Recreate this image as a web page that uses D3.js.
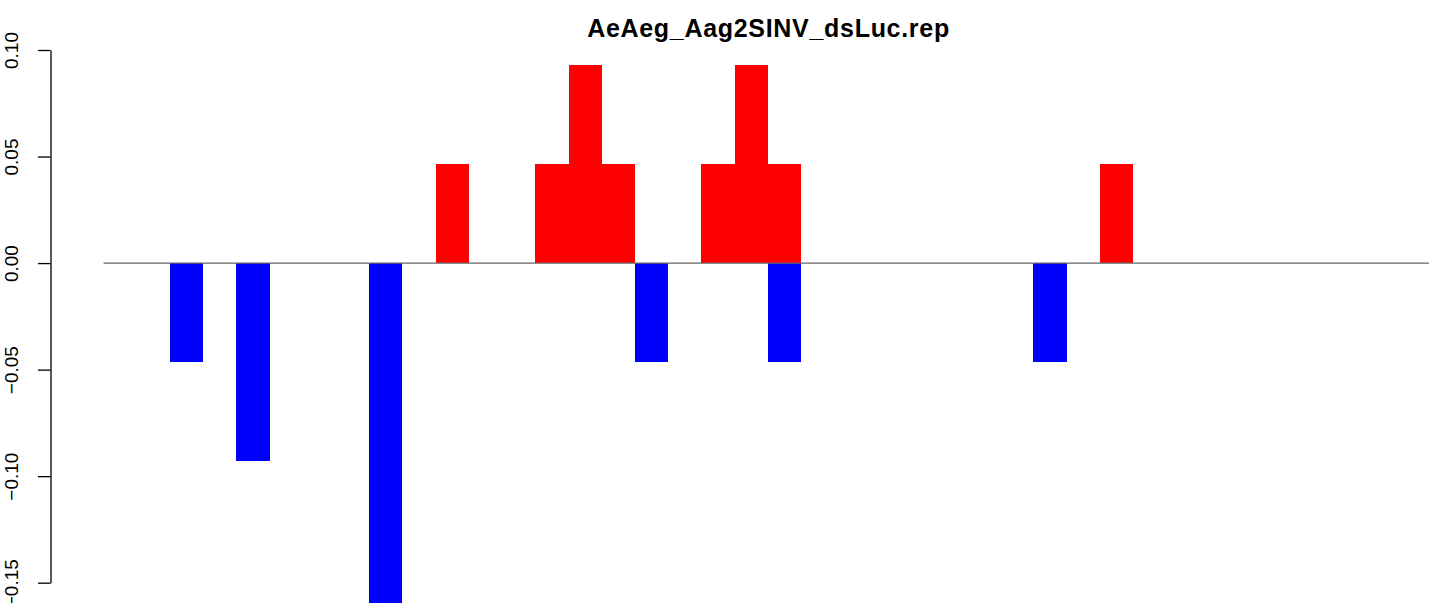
<!DOCTYPE html>
<html>
<head>
<meta charset="utf-8">
<script src="https://cdn.jsdelivr.net/npm/d3@7"></script>
<style>
  html, body { margin: 0; padding: 0; background: #fff; }
  #chart { width: 1429px; height: 603px; overflow: hidden; }
</style>
</head>
<body>
<div id="chart"></div>
<script>
const title = "AeAeg_Aag2SINV_dsLuc.rep";
const yTicks = [-0.15, -0.10, -0.05, 0.00, 0.05, 0.10];
const slotCount = 40;
// bin index -> fraction (positive = red, negative = blue)
const upSlots = [10, 13, 14, 15, 18, 19, 20, 30];
const upValues = [0.0465, 0.0465, 0.093, 0.0465, 0.0465, 0.093, 0.0465, 0.0465];
const downSlots = [2, 4, 8, 16, 20, 28];
const downValues = [-0.0465, -0.093, -0.163, -0.0465, -0.0465, -0.0465];

function draw() {
  const w = 1429, h = 603;

  const svg = d3.select("#chart")
    .append("svg")
    .attr("width", w)
    .attr("height", h)
    .style("font-family", "'Liberation Sans', Arial, Helvetica, sans-serif");

  const x = d3.scaleLinear().domain([0, slotCount]).range([103.6, 103.6 + 33.21 * slotCount]);
  const y = d3.scaleLinear().domain([-0.15, 0.10]).range([582.7, 50]);

  const up = upSlots.map((s, i) => ({ slot: s, v: upValues[i] }));
  const down = downSlots.map((s, i) => ({ slot: s, v: downValues[i] }));

  svg.append("g").selectAll("rect")
    .data(up)
    .join("rect")
    .attr("x", d => x(d.slot))
    .attr("width", d => x(d.slot + 1) - x(d.slot))
    .attr("y", d => y(d.v))
    .attr("height", d => y(0) - y(d.v))
    .attr("fill", "#ff0000")
    .attr("shape-rendering", "crispEdges");

  svg.append("g").selectAll("rect")
    .data(down)
    .join("rect")
    .attr("x", d => x(d.slot))
    .attr("width", d => x(d.slot + 1) - x(d.slot))
    .attr("y", y(0))
    .attr("height", d => y(d.v) - y(0))
    .attr("fill", "#0000ff")
    .attr("shape-rendering", "crispEdges");

  // zero line
  svg.append("line")
    .attr("x1", x(0))
    .attr("x2", x(slotCount))
    .attr("y1", y(0))
    .attr("y2", y(0))
    .attr("stroke", "#666")
    .attr("stroke-width", 1.3);

  const axis = svg.append("g")
    .attr("transform", "translate(50.5,0)")
    .call(d3.axisLeft(y).tickValues(yTicks).tickFormat(d3.format(".2f")).tickSize(12.5).tickSizeOuter(0));

  axis.select(".domain").attr("stroke-width", 1.3);
  axis.selectAll(".tick line").attr("stroke-width", 1.3);
  axis.selectAll(".tick text")
    .attr("x", null)
    .attr("dy", null)
    .attr("transform", "translate(-32.5,0) rotate(-90)")
    .attr("text-anchor", "middle")
    .attr("fill", "#000")
    .style("font-size", "19px");

  svg.append("text")
    .attr("x", 768.5)
    .attr("y", 37)
    .attr("text-anchor", "middle")
    .attr("font-weight", "bold")
    .style("font-size", "25px")
    .style("letter-spacing", "0.7px")
    .text(title);
}

draw();
</script>
</body>
</html>
